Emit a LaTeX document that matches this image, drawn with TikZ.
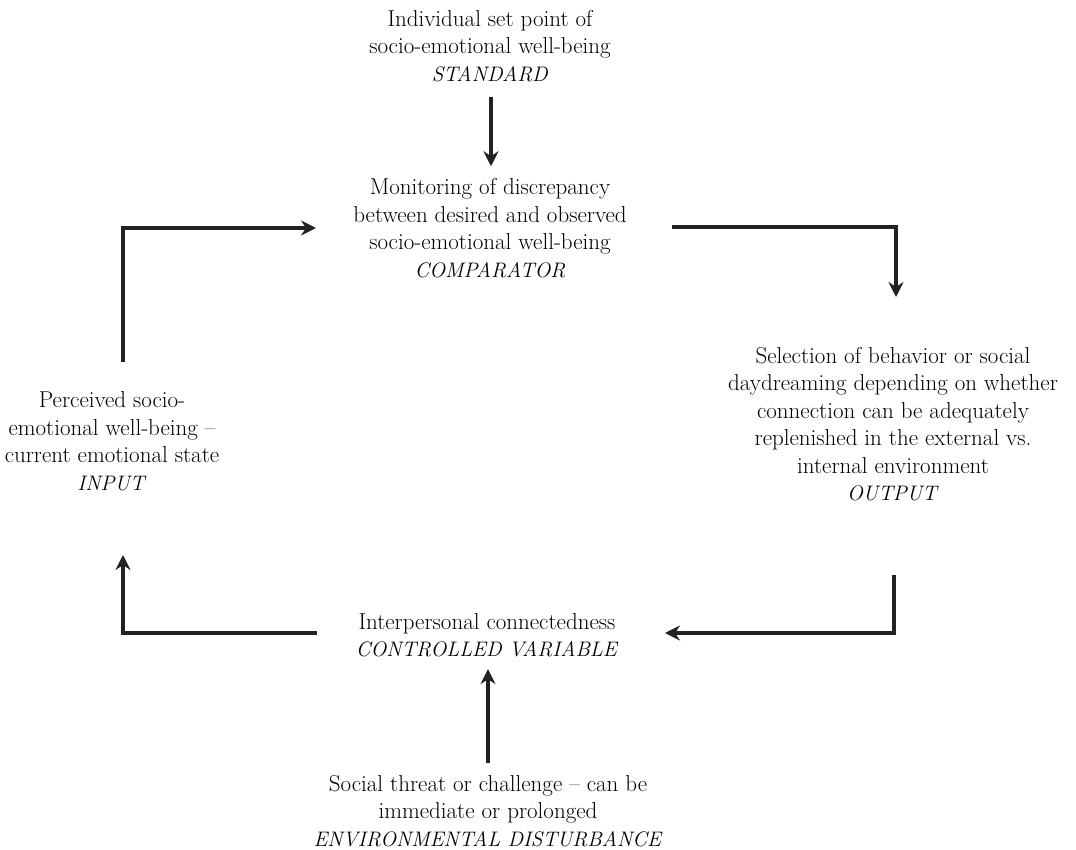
\documentclass[tikz,border=0pt]{standalone}
\usetikzlibrary{arrows.meta}
\definecolor{ink}{HTML}{222222}
\newcommand{\tag}[1]{{\fontsize{21}{27.5}\selectfont\textit{#1}}}
\tikzset{
  lbl/.style={align=center, inner sep=0pt, text=black, font=\fontsize{23}{27.5}\selectfont},
  arr/.style={draw=ink, line width=3.5pt, -{Stealth[length=15pt,width=15pt,inset=5pt]}}
}
\begin{document}
\begin{tikzpicture}[x=1pt,y=1pt]
\useasboundingbox (0,0) rectangle (1076,849);
\node[lbl] (std) at (490,803) {Individual set point of\\socio-emotional well-being\\\tag{STANDARD}};
\node[lbl] (cmp) at (490,621) {Monitoring of discrepancy\\between desired and observed\\socio-emotional well-being\\\tag{COMPARATOR}};
\node[lbl] (out) at (893,425) {Selection of behavior or social\\daydreaming depending on whether\\connection can be adequately\\replenished in the external vs.\\internal environment\\\tag{OUTPUT}};
\node[lbl] (ctl) at (487,214) {Interpersonal connectedness\\\tag{CONTROLLED VARIABLE}};
\node[lbl] (inp) at (112,408) {Perceived socio-\\emotional well-being --\\current emotional state\\\tag{INPUT}};
\node[lbl] (env) at (488,38) {Social threat or challenge -- can be\\immediate or prolonged\\\tag{ENVIRONMENTAL DISTURBANCE}};
\coordinate (c1) at (123,487);
\coordinate (c2) at (316,621);
\coordinate (c3) at (672,622);
\coordinate (c4) at (896,552);
\coordinate (c5) at (894,274);
\coordinate (c6) at (665,216);
\coordinate (c7) at (317,216);
\coordinate (c8) at (123,294);
\draw[arr] ([yshift=-15pt]std.south -| 491,0) -- ([yshift=12pt]cmp.north -| 491,0);
\draw[arr] (c1) |- (c2);
\draw[arr] (c3) -| (c4);
\draw[arr] (c5) |- (c6);
\draw[arr] (c7) -| (c8);
\draw[arr] ([yshift=12pt]env.north -| 488,0) -- ([yshift=-12pt]ctl.south -| 488,0);
\end{tikzpicture}
\end{document}
